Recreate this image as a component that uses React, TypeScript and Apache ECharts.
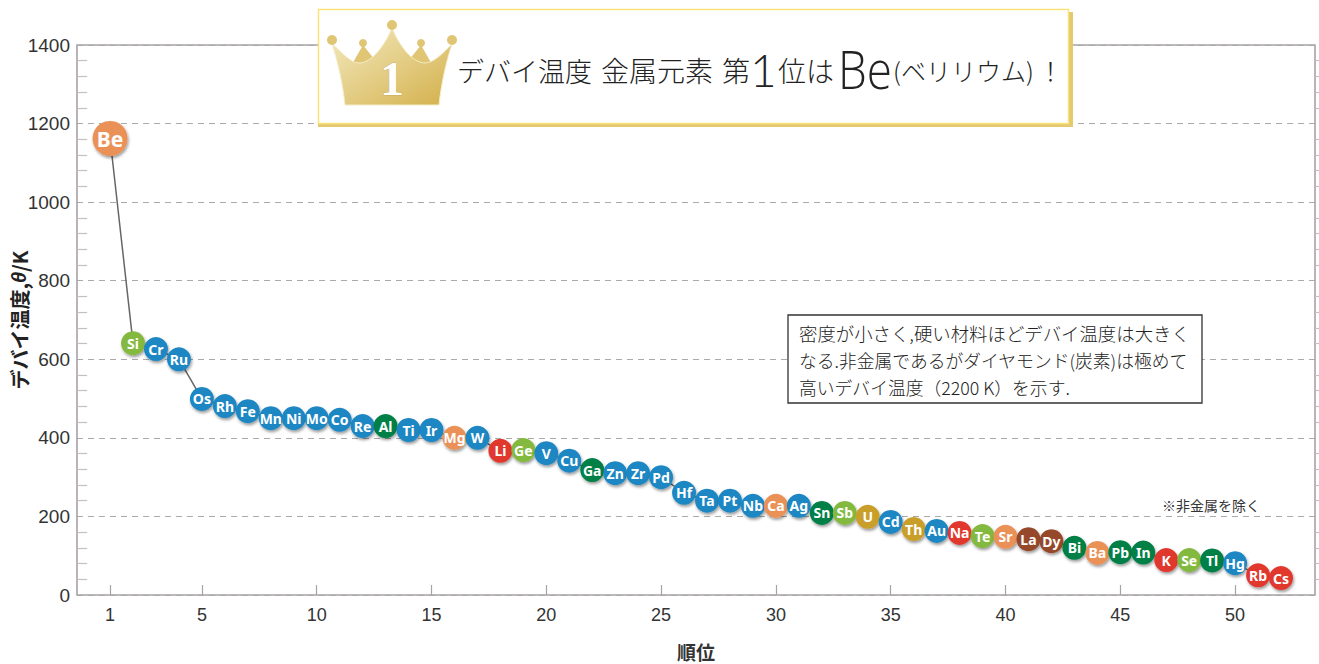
import React, { useEffect, useRef } from "react";
import * as echarts from "echarts";

const ranks = Array.from({ length: 52 }, (_, i) => i + 1);
const elements = ["Be","Si","Cr","Ru","Os","Rh","Fe","Mn","Ni","Mo","Co","Re","Al","Ti","Ir","Mg","W","Li","Ge","V","Cu","Ga","Zn","Zr","Pd","Hf","Ta","Pt","Nb","Ca","Ag","Sn","Sb","U","Cd","Th","Au","Na","Te","Sr","La","Dy","Bi","Ba","Pb","In","K","Se","Tl","Hg","Rb","Cs"];
const debyeTemps = [1162,641,626,600,499,481,468,450,450,450,446,430,430,420,420,400,400,367,369,361,342,318,310,310,300,260,240,240,227,227,227,209,209,199,186,168,163,158,150,148,142,137,120,107,109,108,89,89,88,81,50,43];
const groups = ["o","l","b","b","b","b","b","b","b","b","b","b","g","b","b","o","b","r","l","b","b","g","b","b","b","b","b","b","b","o","b","g","l","y","b","y","b","r","l","o","n","n","g","o","g","g","r","l","g","b","r","r"];
const groupColors: Record<string, string> = { o: "#ea9158", l: "#84b93f", b: "#1f87c2", g: "#007f47", r: "#e1372f", y: "#c99f2c", n: "#954a2b" };
const yTicks = { min: 0, max: 1400, interval: 200 };
const xTickValues = [1, 5, 10, 15, 20, 25, 30, 35, 40, 45, 50];
const noteLines = ["密度が小さく,硬い材料ほどデバイ温度は大きく", "なる.非金属であるがダイヤモンド(炭素)は極めて", "高いデバイ温度（2200 K）を示す."];
const noteSizes = [18.4, 17.8, 17.8];

const SANS = '"Liberation Sans", "Noto Sans CJK JP", sans-serif';
const JP = '"Noto Sans CJK JP", sans-serif';

echarts.graphic.registerShape("crownBody", echarts.graphic.extendPath("M345 105 C343 85 338 62 332 44 C342 52 350 63 359 63 C372 63 385 45 392 28 C399 45 412 63 425 63 C434 63 444 52 452 44 C446 62 441 85 439 105 Z", {}));
echarts.graphic.registerShape("crownSpires", echarts.graphic.extendPath("M363 45 L351 66 L375 60 Z M421 45 L433 66 L409 60 Z", {}));

export default function App() {
  const ref = useRef<HTMLDivElement>(null);
  useEffect(() => {
    const chart = echarts.init(ref.current!, undefined, { renderer: "svg" });
    const gold = () => new echarts.graphic.LinearGradient(0, 0, 1, 1, [
      { offset: 0, color: "#f4eac0" },
      { offset: 1, color: "#d3b04b" },
    ]);
    const titleText = (x: number, text: string, size: number, family = JP, y = 70, scaleX = 1) => ({
      type: "text", x, y, z: 103, scaleX,
      style: { text, fontSize: size, fontWeight: 300, fontFamily: family, fill: "#222", textVerticalAlign: "middle", textBaseline: "middle" },
    });
    const ball = (cx: number, cy: number, r: number) => ({ type: "circle", z: 102, shape: { cx, cy, r }, style: { fill: "#e0c674" } });
    const yAxisBase = {
      type: "value", ...yTicks,
      axisLine: { show: false }, axisTick: { show: false },
      minorTick: { show: true, splitNumber: 5, length: 10, lineStyle: { color: "#c4bfc2", width: 1.2 } },
    };
    chart.setOption({
      animation: false,
      backgroundColor: "#fff",
      grid: { left: 77, right: 4, top: 45, bottom: 69, show: true, borderColor: "#a8a1a6", borderWidth: 1.6, containLabel: false, outerBoundsMode: "none" },
      xAxis: {
        type: "value", min: -0.44, max: 53.48,
        name: "順位", nameLocation: "middle", nameGap: 47, nameMoveOverlap: false,
        nameTextStyle: { fontSize: 19, fontWeight: "bold", fontFamily: JP, color: "#333" },
        axisLine: { show: false },
        splitLine: { show: false },
        axisTick: { show: true, inside: true, length: 10, customValues: xTickValues, lineStyle: { color: "#a8a1a6", width: 1.2 } },
        axisLabel: { show: true, customValues: xTickValues, margin: 11, fontSize: 18, fontFamily: SANS, color: "#333", hideOverlap: false },
      },
      yAxis: [
        {
          ...yAxisBase,
          name: "{a|デバイ温度,}{b|θ}{a|/K}", nameLocation: "middle", nameGap: 48, nameRotate: 90, nameMoveOverlap: false,
          nameTextStyle: { rich: {
            a: { fontSize: 20, fontWeight: "bold", fontFamily: JP, color: "#222" },
            b: { fontSize: 20, fontWeight: "bold", fontStyle: "italic", fontFamily: SANS, color: "#222" },
          } },
          axisLabel: { margin: 7, fontSize: 19, fontFamily: SANS, color: "#333", formatter: (v: number) => String(v) },
          splitLine: { show: true, lineStyle: { type: [6, 5], color: "#aaa", width: 1.2 } },
          minorTick: { ...yAxisBase.minorTick },
        },
        { ...yAxisBase, position: "right", axisLabel: { show: false }, splitLine: { show: false }, minorTick: { ...yAxisBase.minorTick, length: 10 } },
      ],
      series: [{
        type: "line", silent: true, showSymbol: true, showAllSymbol: true, symbol: "circle",
        lineStyle: { color: "#666", width: 1.5 },
        z: 5,
        data: ranks.map((r, i) => {
          const big = i === 0;
          return {
            name: elements[i],
            value: [r, debyeTemps[i]],
            symbolSize: big ? 35 : 24,
            itemStyle: { color: groupColors[groups[i]], shadowBlur: 3, shadowOffsetX: 1, shadowOffsetY: 2, shadowColor: "rgba(0,0,0,0.4)" },
            label: { show: true, position: "inside", formatter: "{b}", color: "#fff", fontSize: big ? 21 : 14, fontWeight: "bold", fontFamily: '"Noto Sans", sans-serif' },
          };
        }),
      }],
      graphic: [
        { type: "rect", z: 100, shape: { x: 318, y: 12, width: 755, height: 115 }, style: { fill: "#e3c96f" } },
        { type: "rect", z: 101, shape: { x: 318.5, y: 9.5, width: 750, height: 114 }, style: { fill: "#fff", stroke: "#fbe27a", lineWidth: 1.5 } },
        { type: "crownSpires", z: 102, style: { fill: "#e0c674" } },
        { type: "crownBody", z: 102, style: { fill: gold(), stroke: "#f5ecc8", lineWidth: 1 } },
        ball(332, 40, 5), ball(392, 25, 5), ball(452, 40, 5), ball(363, 43, 4), ball(421, 43, 4),
        { type: "text", x: 392, y: 78, z: 103, style: { text: "1", fontSize: 48, fontWeight: "bold", fontFamily: '"Liberation Serif", serif', fill: "#fff", stroke: "#b89a4a", lineWidth: 0.5, align: "center", verticalAlign: "middle" } },
        titleText(457, "デバイ温度", 27),
        titleText(601, "金属元素", 28),
        titleText(722, "第", 28),
        titleText(750, "1", 46, '"Lato", sans-serif', 69),
        titleText(778, "位は", 28),
        titleText(838, "Be", 54, '"Open Sans", sans-serif', 68, 0.85),
        titleText(893, "(ベリリウム)", 25),
        titleText(1038, "！", 25),
        { type: "rect", z: 100, shape: { x: 788, y: 315, width: 414, height: 88 }, style: { fill: "#fff", stroke: "#333", lineWidth: 1.3 } },
        ...noteLines.map((text, i) => ({
          type: "text", x: 799, y: 333 + i * 27, z: 101,
          style: { text, fontSize: noteSizes[i], fontWeight: 300, fontFamily: JP, fill: "#222", textVerticalAlign: "middle", textBaseline: "middle" },
        })),
        { type: "text", x: 1162, y: 505, z: 101, style: { text: "※非金属を除く", fontSize: 14, fontFamily: JP, fill: "#333", textVerticalAlign: "middle", textBaseline: "middle" } },
      ],
    });
    return () => chart.dispose();
  }, []);
  return <div ref={ref} style={{ position: "fixed", left: 0, top: 0, width: 1319, height: 664 }} />;
}
